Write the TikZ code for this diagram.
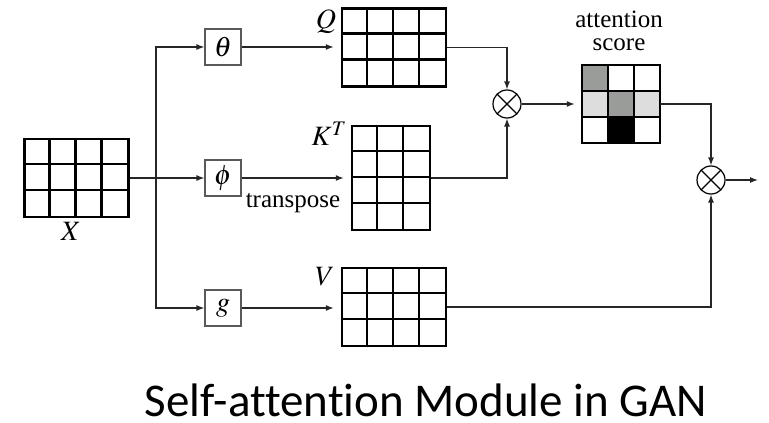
\documentclass[tikz,border=0pt]{standalone}
\usepackage{mathptmx}
\usepackage{fontspec}
\setmainfont{Liberation Serif}
\newfontfamily\titlefont[Ligatures=NoCommon]{Carlito}
\usetikzlibrary{arrows.meta}

\definecolor{scoregray}{HTML}{9A9C9A}
\definecolor{scorelight}{HTML}{DCDDDC}

\tikzset{
  cell/.style={draw, line width=2.4pt, inner sep=0pt},
  cellline/.style={line width=2.4pt},
  fbox/.style={draw=black!65, line width=1.2pt, minimum size=36pt, inner sep=0pt,
    font=\fontsize{28}{32}\selectfont},
  mul/.style={circle, draw, line width=1.2pt, minimum size=28pt, inner sep=0pt,
    path picture={\draw[line width=1.2pt]
      (path picture bounding box.north west) -- (path picture bounding box.south east)
      (path picture bounding box.north east) -- (path picture bounding box.south west);}},
  flow/.style={line width=1.2pt, black!85, -{Latex[length=8pt,width=6pt]}},
  lbl/.style={font=\fontsize{25}{30}\selectfont, inner sep=0pt},
  mlbl/.style={font=\fontsize{28}{32}\selectfont, inner sep=0pt}
}

\begin{document}
\begin{tikzpicture}[x=1pt,y=-1pt]
\useasboundingbox (0,0) rectangle (769,423);

% matrices
\node[cell, minimum width=104pt, minimum height=78pt] (X) at (76.5,178) {};
\draw[cellline, shift={(X.north west)}] \foreach \i in {1,2,3} {(26*\i,0) -- ++(0,78)}
  \foreach \j in {1,2} {(0,26*\j) -- ++(104,0)};
\node[mlbl] (xlbl) at (71,231) {$X$};

\node[cell, minimum width=104pt, minimum height=78pt] (Q) at (394,47.5) {};
\draw[cellline, shift={(Q.north west)}] \foreach \i in {1,2,3} {(26*\i,0) -- ++(0,78)}
  \foreach \j in {1,2} {(0,26*\j) -- ++(104,0)};
\node[mlbl] (qlbl) at (326,22) {$Q$};

\node[cell, minimum width=78pt, minimum height=104pt] (K) at (391,178) {};
\draw[cellline, shift={(K.north west)}] \foreach \i in {1,2} {(26*\i,0) -- ++(0,104)}
  \foreach \j in {1,2,3} {(0,26*\j) -- ++(78,0)};
\node[mlbl] (klbl) at (329,134) {$K^T$};

\node[cell, minimum width=104pt, minimum height=78pt] (V) at (394,307) {};
\draw[cellline, shift={(V.north west)}] \foreach \i in {1,2,3} {(26*\i,0) -- ++(0,78)}
  \foreach \j in {1,2} {(0,26*\j) -- ++(104,0)};
\node[mlbl] (vlbl) at (325,277) {$V$};

% attention score
\node[inner sep=0pt, minimum size=78pt] (A) at (621,104) {};
\begin{scope}[shift={(A.north west)}]
  \fill[scoregray] (0,0) rectangle (26,26);
  \fill[scorelight] (0,26) rectangle (26,52);
  \fill[scoregray] (26,26) rectangle (52,52);
  \fill[scorelight] (52,26) rectangle (78,52);
  \fill[black] (26,52) rectangle (52,78);
  \draw[cellline] (0,0) rectangle (78,78)
    \foreach \i in {1,2} {(26*\i,0) -- ++(0,78) (0,26*\i) -- ++(78,0)};
\end{scope}
\node[lbl] (att) at (619,19) {attention};
\node[lbl] (score) at (619,45) {score};

% functions
\node[fbox] (theta) at (223,47) {$\theta$};
\node[fbox] (phi) at (223,178) {$\phi$};
\node[fbox] (g) at (223,308) {$g$};
\node[lbl] (tlbl) at (293,203) {transpose};

\node[mul] (m1) at (507,104) {};
\node[mul] (m2) at (711,180) {};
\coordinate (br) at (156,178);
\coordinate (out) at (758,180);

% connectors
\draw[flow] (X.east) -- (phi.west);
\draw[flow] (br) |- (theta.west);
\draw[flow] (br) |- (g.west);
\draw[flow, shorten >=7pt] (theta.east) -- (theta.east -| Q.west);
\draw[flow, shorten >=7pt] (phi.east) -- (K.west);
\draw[flow, shorten >=7pt] (g.east) -- (g.east -| V.west);
\draw[flow] (Q.east) -| (m1.north);
\draw[flow] (K.east) -| (m1.south);
\draw[flow, shorten >=7pt] (m1.east) -- (A.west);
\draw[flow] (A.east) -| (m2.north);
\draw[flow] (V.east) -| (m2.south);
\draw[flow] (m2.east) -- (out);

\node[font=\titlefont\fontsize{47}{50}\selectfont, anchor=base, inner sep=0pt] (title) at (426,416)
  {Self-attention Module in GAN};
\end{tikzpicture}
\end{document}
